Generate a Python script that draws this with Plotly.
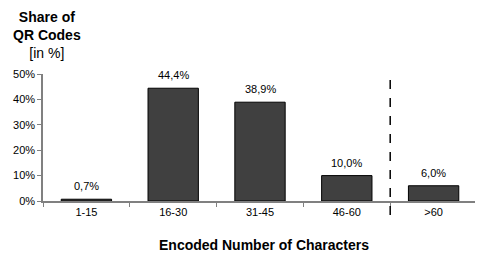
import plotly.graph_objects as go

categories = ["1-15", "16-30", "31-45", "46-60", ">60"]
shares = [0.7, 44.4, 38.9, 10.0, 6.0]
y_ticks = [0, 10, 20, 30, 40, 50]
y_tick_labels = ["0%", "10%", "20%", "30%", "40%", "50%"]

FONT = "Liberation Sans, Arial"

fig = go.Figure()
fig.add_trace(go.Bar(
    x=categories, y=shares,
    marker=dict(color="#404040", line=dict(color="#000000", width=1)),
    width=0.58,
))

for c, v in zip(categories, shares):
    fig.add_annotation(x=c, y=v, xref="x", yref="y", yshift=13,
                       xanchor="center", yanchor="middle", showarrow=False,
                       text=f"{v:.1f}%".replace(".", ","),
                       font=dict(family=FONT, size=11, color="#000000"))

fig.add_shape(type="line", xref="x", yref="paper", x0=3.5, x1=3.5, y0=-0.11, y1=1.0,
              line=dict(color="#000000", width=1.5, dash="dash"))

fig.add_annotation(xref="paper", yref="paper", x=0.009, y=1.0, yshift=11,
                   xanchor="center", yanchor="bottom", showarrow=False, align="center",
                   text="<b>Share of</b><br><b>QR Codes</b><br>[in %]",
                   font=dict(family=FONT, size=14, color="#000000"))

fig.add_annotation(xref="paper", yref="paper", x=0.51, y=-0.346,
                   xanchor="center", yanchor="middle", showarrow=False,
                   text="<b>Encoded Number of Characters</b>",
                   font=dict(family=FONT, size=14, color="#000000"))

# page body has an 8px margin; figure is sized/margined to compensate
fig.update_layout(
    width=475, height=255,
    margin=dict(l=35, r=6, t=66, b=62, autoexpand=False),
    plot_bgcolor="white", paper_bgcolor="white",
    showlegend=False,
    font=dict(family=FONT, size=11, color="#000000"),
    xaxis=dict(
        range=[-0.5, 4.5], showline=True, linecolor="#808080", linewidth=1.5,
        ticks="outside", tickson="boundaries", ticklen=4, tickcolor="#808080",
        showgrid=False, tickfont=dict(size=11), automargin=False,
    ),
    yaxis=dict(
        range=[0, 50], tickvals=y_ticks, ticktext=y_tick_labels,
        showline=True, linecolor="#808080", linewidth=1.5,
        ticks="outside", ticklen=4, tickcolor="#808080",
        showgrid=False, zeroline=False, tickfont=dict(size=11), automargin=False,
    ),
)

fig.write_html("out.html")
